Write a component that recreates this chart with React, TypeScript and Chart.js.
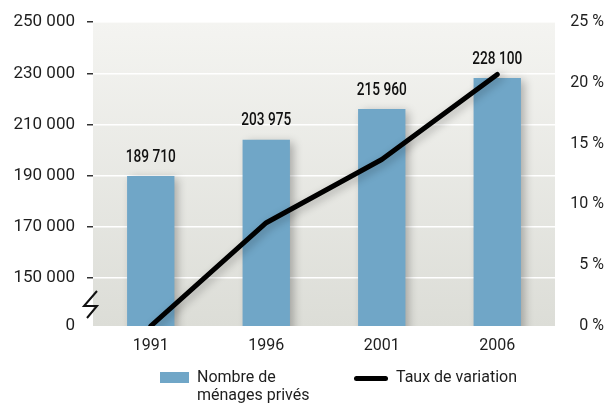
import { useEffect, useRef } from "react";
import { Chart, registerables } from "chart.js";

Chart.register(...registerables);

const years = ["1991", "1996", "2001", "2006"];
const households = [189710, 203975, 215960, 228100];
const variationRate = [0, 8.5, 13.7, 20.7];
const leftTicks = [150000, 170000, 190000, 210000, 230000, 250000];
const leftAxisMin = 131000;
const leftAxisMax = 250000;
const rightTicks = [0, 5, 10, 15, 20, 25];
const barLegend = ["Nombre de", "ménages privés"];
const lineLegend = "Taux de variation";

const BAR_COLOR = "#70a6c7";
const TEXT_COLOR = "#1e1e1e";
const FONT = "Roboto, 'DejaVu Sans', sans-serif";

const fmt = (n: number) => String(n).replace(/\B(?=(\d{3})+(?!\d))/g, " ");

const bgPlugin = {
  id: "plotBg",
  beforeDraw(chart: any) {
    const { ctx, chartArea } = chart;
    if (!chartArea) return;
    const g = ctx.createLinearGradient(0, chartArea.top, 0, chartArea.bottom);
    g.addColorStop(0, "#f4f4f1");
    g.addColorStop(1, "#dcddd7");
    ctx.save();
    ctx.fillStyle = g;
    ctx.fillRect(chartArea.left, chartArea.top, chartArea.right - chartArea.left, chartArea.bottom - chartArea.top);
    ctx.restore();
  },
};

const shadowPlugin = {
  id: "shadows",
  beforeDatasetDraw(chart: any) {
    const ctx = chart.ctx;
    ctx.save();
    ctx.shadowColor = "rgba(0,0,0,0.28)";
    ctx.shadowBlur = 9;
    ctx.shadowOffsetX = 4;
    ctx.shadowOffsetY = 2;
  },
  afterDatasetDraw(chart: any) {
    chart.ctx.restore();
  },
};

const labelsPlugin = {
  id: "barLabels",
  afterDatasetsDraw(chart: any) {
    const { ctx } = chart;
    const meta = chart.getDatasetMeta(1);
    meta.data.forEach((el: any, i: number) => {
      ctx.save();
      ctx.translate(el.x, el.y - 19);
      ctx.scale(0.76, 1);
      ctx.font = `500 18px ${FONT}`;
      ctx.fillStyle = "#111";
      ctx.textAlign = "center";
      ctx.textBaseline = "middle";
      ctx.fillText(fmt(households[i]), 0, 0);
      ctx.restore();
    });
  },
  afterDraw(chart: any) {
    // axis break symbol
    const { ctx } = chart;
    const y = chart.scales.y;
    const x0 = y.right - 10;
    const yb = y.bottom - 19;
    ctx.save();
    ctx.strokeStyle = "#111";
    ctx.lineWidth = 2;
    ctx.lineJoin = "miter";
    ctx.beginPath();
    ctx.moveTo(x0 + 14, yb - 16);
    ctx.lineTo(x0 + 1, yb - 1);
    ctx.lineTo(x0 + 14, yb - 1);
    ctx.lineTo(x0 + 4, yb + 11);
    ctx.stroke();
    ctx.restore();
  },
};

export default function App() {
  const ref = useRef<HTMLCanvasElement | null>(null);

  useEffect(() => {
    document.body.style.margin = "0";
    if (!ref.current) return;
    const chart = new Chart(ref.current, {
      type: "bar",
      data: {
        labels: years,
        datasets: [
          {
            type: "line",
            label: lineLegend,
            data: variationRate,
            yAxisID: "y1",
            borderColor: "#000",
            borderWidth: 5,
            borderCapStyle: "round",
            borderJoinStyle: "round",
            pointRadius: 0,
            tension: 0,
            order: 0,
          } as any,
          {
            type: "bar",
            label: barLegend.join(" "),
            data: households,
            yAxisID: "y",
            backgroundColor: BAR_COLOR,
            barPercentage: 0.41,
            categoryPercentage: 1,
            order: 1,
          } as any,
        ],
      },
      options: {
        animation: false,
        responsive: true,
        maintainAspectRatio: false,
        layout: { padding: { top: 18, left: 0, right: 0, bottom: 0 } },
        plugins: { legend: { display: false }, tooltip: { enabled: false } },
        scales: {
          x: {
            grid: { display: false },
            border: { display: false },
            ticks: { color: TEXT_COLOR, font: { family: FONT, size: 16 }, padding: 2 },
            afterFit(scale: any) {
              scale.height = 79;
            },
          },
          y: {
            position: "left",
            min: leftAxisMin,
            max: leftAxisMax,
            afterBuildTicks(scale: any) {
              scale.ticks = [leftAxisMin, ...leftTicks].map((v) => ({ value: v }));
            },
            afterFit(scale: any) {
              scale.width = 93;
            },
            grid: {
              color: (c: any) => (c.tick && c.tick.value === leftAxisMin ? "rgba(0,0,0,0)" : "#ffffff"),
              tickColor: (c: any) => (c.tick && c.tick.value === leftAxisMin ? "rgba(0,0,0,0)" : "#333"),
              lineWidth: 1.5,
              tickLength: 6,
            },
            border: { display: false },
            ticks: {
              color: TEXT_COLOR,
              font: { family: FONT, size: 17 },
              padding: 12,
              callback: (v: any) => (v === leftAxisMin ? "0" : fmt(Number(v))),
            },
          },
          y1: {
            position: "right",
            min: 0,
            max: 25,
            afterBuildTicks(scale: any) {
              scale.ticks = rightTicks.map((v) => ({ value: v }));
            },
            afterFit(scale: any) {
              scale.width = 49;
            },
            grid: { display: false, drawOnChartArea: false },
            border: { display: false },
            ticks: {
              color: TEXT_COLOR,
              font: { family: FONT, size: 16 },
              padding: 7,
              crossAlign: "far",
              callback: (v: any) => `${v} %`,
            },
          },
        },
      } as any,
      plugins: [bgPlugin, shadowPlugin, labelsPlugin],
    });
    return () => chart.destroy();
  }, []);

  return (
    <div style={{ position: "relative", width: 604, height: 405, fontFamily: FONT, color: TEXT_COLOR }}>
      <canvas ref={ref} style={{ display: "block" }} />
      <div style={{ position: "absolute", left: 160, top: 372, width: 29, height: 11, background: BAR_COLOR }} />
      <div style={{ position: "absolute", left: 197, top: 368, fontSize: 16, lineHeight: "18px" }}>
        {barLegend[0]}
        <br />
        {barLegend[1]}
      </div>
      <div style={{ position: "absolute", left: 354, top: 376, width: 34, height: 5, borderRadius: 3, background: "#000" }} />
      <div style={{ position: "absolute", left: 396, top: 368, fontSize: 16, lineHeight: "18px" }}>{lineLegend}</div>
    </div>
  );
}
